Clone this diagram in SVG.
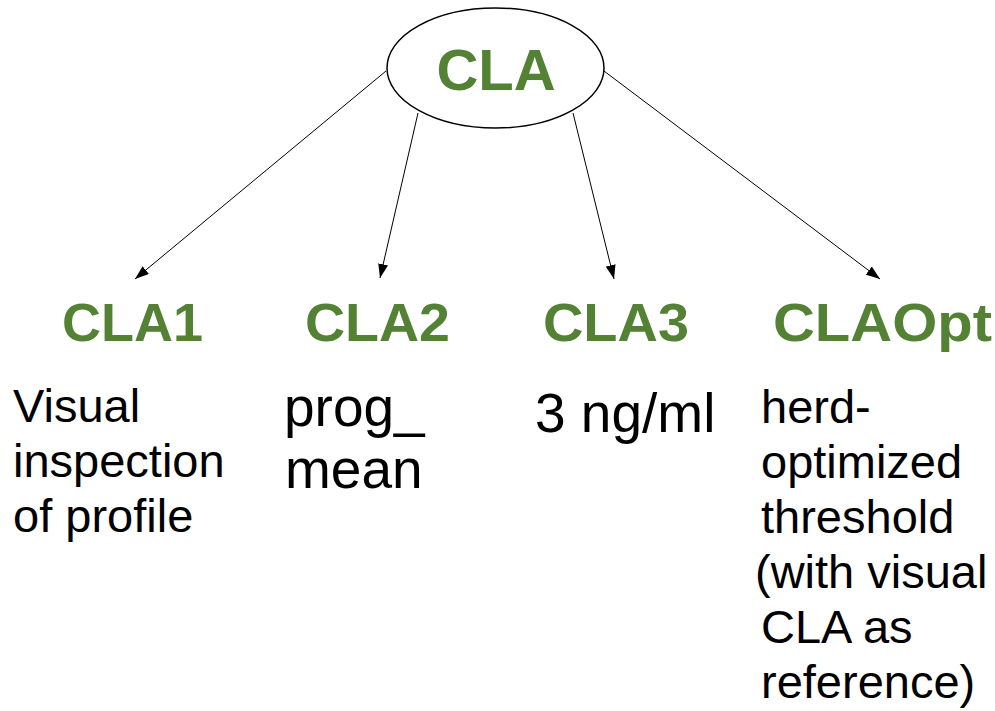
<svg xmlns="http://www.w3.org/2000/svg" width="995" height="711" viewBox="0 0 995 711">
  <defs>
    <marker id="arrow" viewBox="0 0 14 10" refX="14" refY="5" markerWidth="14" markerHeight="10" markerUnits="userSpaceOnUse" orient="auto">
      <path d="M0,0 L14,5 L0,10 Z" fill="#000"/>
    </marker>
    <style>
      .title { font-family: "Liberation Sans", Arial, sans-serif; font-weight: bold; fill: #548235; }
      .body { font-family: "Liberation Sans", Arial, sans-serif; fill: #000; }
      .edge { stroke: #000; stroke-width: 1; fill: none; marker-end: url(#arrow); }
    </style>
  </defs>
  <rect width="995" height="711" fill="#fff"/>
  <g id="connectors">
    <line class="edge" x1="386" y1="71" x2="135" y2="279"/>
    <line class="edge" x1="418" y1="113" x2="380" y2="278"/>
    <line class="edge" x1="573" y1="113" x2="614" y2="279"/>
    <line class="edge" x1="604" y1="71" x2="880" y2="279"/>
  </g>
  <g id="node-cla">
    <ellipse cx="495.5" cy="68" rx="108.5" ry="60" fill="#fff" stroke="#000" stroke-width="1.5"/>
    <text class="title" x="496" y="90" font-size="58" text-anchor="middle">CLA</text>
  </g>
  <g id="node-cla1">
    <text class="title" x="62" y="341" font-size="53" textLength="141" lengthAdjust="spacingAndGlyphs">CLA1</text>
    <text class="body" font-size="47">
      <tspan x="13" y="422">Visual</tspan>
      <tspan x="13" y="477">inspection</tspan>
      <tspan x="13" y="532">of profile</tspan>
    </text>
  </g>
  <g id="node-cla2">
    <text class="title" x="305" y="341" font-size="53" textLength="145" lengthAdjust="spacingAndGlyphs">CLA2</text>
    <text class="body" font-size="55">
      <tspan x="284" y="426">prog_</tspan>
      <tspan x="285" y="488">mean</tspan>
    </text>
  </g>
  <g id="node-cla3">
    <text class="title" x="543" y="341" font-size="53" textLength="146" lengthAdjust="spacingAndGlyphs">CLA3</text>
    <text class="body" x="535" y="432" font-size="55">3 ng/ml</text>
  </g>
  <g id="node-claopt">
    <text class="title" x="773" y="341" font-size="53" textLength="219" lengthAdjust="spacingAndGlyphs">CLAOpt</text>
    <text class="body" font-size="47">
      <tspan x="761" y="423">herd-</tspan>
      <tspan x="761" y="478">optimized</tspan>
      <tspan x="761" y="533">threshold</tspan>
      <tspan x="755" y="588">(with visual</tspan>
      <tspan x="761" y="643">CLA as</tspan>
      <tspan x="761" y="698">reference)</tspan>
    </text>
  </g>
</svg>
